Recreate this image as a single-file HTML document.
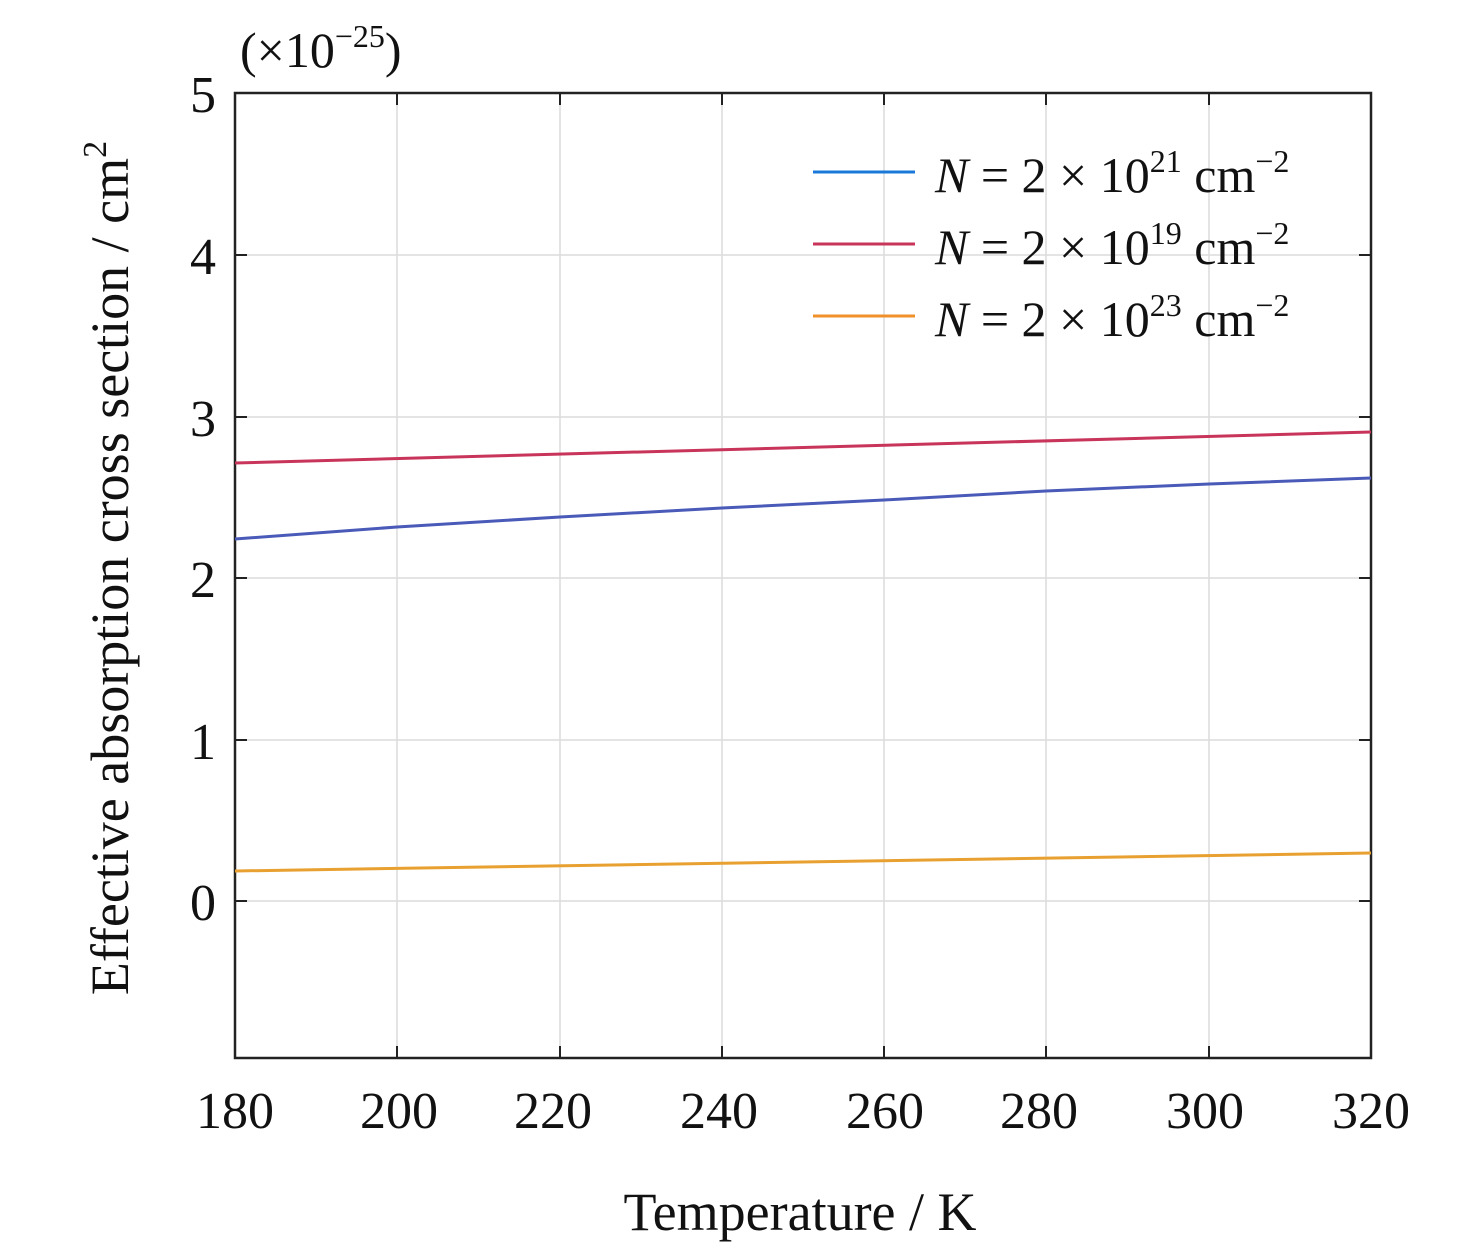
<!DOCTYPE html>
<html><head><style>
html,body{margin:0;padding:0;background:#fff;}
svg{display:block;font-family:"Liberation Serif",serif;}
</style></head><body>
<svg width="1476" height="1248" viewBox="0 0 1476 1248" xmlns="http://www.w3.org/2000/svg">
<rect width="1476" height="1248" fill="#fff"/>
<g stroke="#dcdcdc" stroke-width="1.5">
<line x1="397" y1="93" x2="397" y2="1058"/><line x1="560" y1="93" x2="560" y2="1058"/>
<line x1="722" y1="93" x2="722" y2="1058"/><line x1="884" y1="93" x2="884" y2="1058"/>
<line x1="1046" y1="93" x2="1046" y2="1058"/><line x1="1209" y1="93" x2="1209" y2="1058"/>
<line x1="235" y1="255" x2="1371" y2="255"/><line x1="235" y1="417" x2="1371" y2="417"/>
<line x1="235" y1="578" x2="1371" y2="578"/><line x1="235" y1="740" x2="1371" y2="740"/>
<line x1="235" y1="901" x2="1371" y2="901"/>
</g>
<rect x="235" y="93" width="1136" height="965" fill="none" stroke="#222" stroke-width="2.5"/>
<g stroke="#222" stroke-width="2">
<line x1="397" y1="1058" x2="397" y2="1046"/><line x1="560" y1="1058" x2="560" y2="1046"/><line x1="722" y1="1058" x2="722" y2="1046"/><line x1="884" y1="1058" x2="884" y2="1046"/><line x1="1046" y1="1058" x2="1046" y2="1046"/><line x1="1209" y1="1058" x2="1209" y2="1046"/>
<line x1="397" y1="93" x2="397" y2="105"/><line x1="560" y1="93" x2="560" y2="105"/><line x1="722" y1="93" x2="722" y2="105"/><line x1="884" y1="93" x2="884" y2="105"/><line x1="1046" y1="93" x2="1046" y2="105"/><line x1="1209" y1="93" x2="1209" y2="105"/>
<line x1="235" y1="255" x2="247" y2="255"/><line x1="235" y1="417" x2="247" y2="417"/><line x1="235" y1="578" x2="247" y2="578"/><line x1="235" y1="740" x2="247" y2="740"/><line x1="235" y1="901" x2="247" y2="901"/>
<line x1="1371" y1="255" x2="1359" y2="255"/><line x1="1371" y1="417" x2="1359" y2="417"/><line x1="1371" y1="578" x2="1359" y2="578"/><line x1="1371" y1="740" x2="1359" y2="740"/><line x1="1371" y1="901" x2="1359" y2="901"/>
</g>
<polyline points="235,463 1371,432" fill="none" stroke="#c8345a" stroke-width="3"/>
<polyline points="235,539 397,527 560,517 722,508 884,500 1046,491 1209,484 1371,478" fill="none" stroke="#4a5ab8" stroke-width="3"/>
<polyline points="235,871 1371,853" fill="none" stroke="#e8a030" stroke-width="3"/>
<g font-size="52" fill="#111" text-anchor="end">
<text x="216" y="112">5</text><text x="216" y="274">4</text><text x="216" y="436">3</text><text x="216" y="597">2</text><text x="216" y="759">1</text><text x="216" y="920">0</text>
</g>
<g font-size="52" fill="#111" text-anchor="middle">
<text x="235" y="1128">180</text><text x="399" y="1128">200</text><text x="553" y="1128">220</text><text x="719" y="1128">240</text><text x="885" y="1128">260</text><text x="1039" y="1128">280</text><text x="1205" y="1128">300</text><text x="1371" y="1128">320</text>
<text x="800" y="1230" font-size="54">Temperature / K</text>
</g>
<text x="240" y="67" font-size="50" fill="#111">(×10<tspan font-size="32" dy="-20">−25</tspan><tspan dy="20">)</tspan></text>
<text transform="translate(128,568) rotate(-90)" font-size="54" fill="#111" text-anchor="middle">Effective absorption cross section / cm<tspan font-size="34" dy="-22">2</tspan></text>
<line x1="813" y1="172" x2="915" y2="172" stroke="#1a78d8" stroke-width="3"/>
<line x1="813" y1="244" x2="915" y2="244" stroke="#c8345a" stroke-width="3"/>
<line x1="813" y1="316" x2="915" y2="316" stroke="#f0902a" stroke-width="3"/>
<g font-size="50" fill="#111">
<text x="935" y="192"><tspan font-style="italic">N</tspan> = 2 × 10<tspan font-size="32" dy="-20">21</tspan><tspan dy="20"> cm</tspan><tspan font-size="32" dy="-20">−2</tspan></text>
<text x="935" y="264"><tspan font-style="italic">N</tspan> = 2 × 10<tspan font-size="32" dy="-20">19</tspan><tspan dy="20"> cm</tspan><tspan font-size="32" dy="-20">−2</tspan></text>
<text x="935" y="336"><tspan font-style="italic">N</tspan> = 2 × 10<tspan font-size="32" dy="-20">23</tspan><tspan dy="20"> cm</tspan><tspan font-size="32" dy="-20">−2</tspan></text>
</g>
</svg>
</body></html>
